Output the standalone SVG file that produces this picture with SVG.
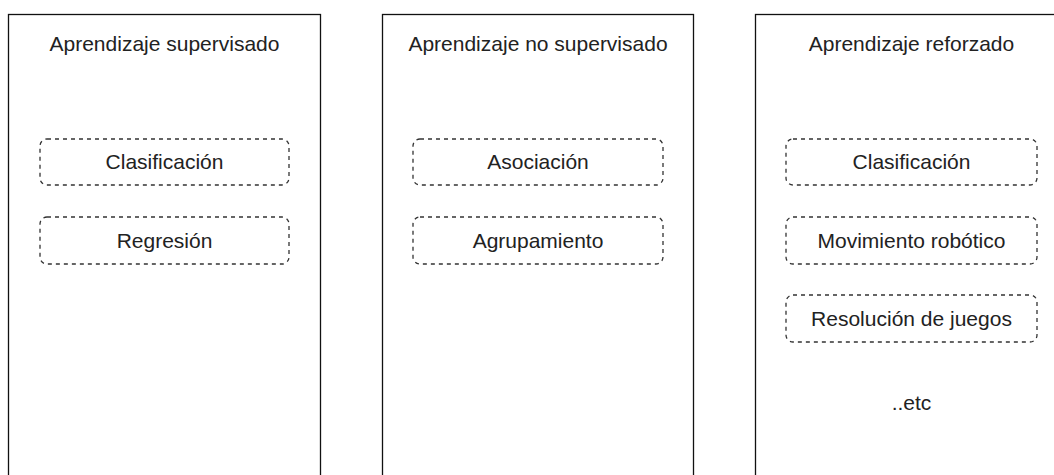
<svg xmlns="http://www.w3.org/2000/svg" width="1054" height="475" viewBox="0 0 1054 475">
<style>
.panel{fill:#fff;stroke:#111;stroke-width:1.3}
.item{fill:#fff;stroke:#333;stroke-width:1.3;stroke-dasharray:4 4}
text{font-family:"Liberation Sans",Arial,sans-serif;font-size:21px;fill:#222;text-anchor:middle}
</style>
<rect width="1054" height="475" fill="#fff"/>
<g id="panel-supervisado">
<rect class="panel" x="8.5" y="14.5" width="312" height="480"/>
<text x="164.5" y="51">Aprendizaje supervisado</text>
</g>
<g id="panel-no-supervisado">
<rect class="panel" x="382.5" y="14.5" width="311" height="480"/>
<text x="538" y="51">Aprendizaje no supervisado</text>
</g>
<g id="panel-reforzado">
<rect class="panel" x="755.5" y="14.5" width="312" height="480"/>
<text x="911.5" y="51">Aprendizaje reforzado</text>
</g>
<g id="sup-clasificacion">
<rect class="item" x="40" y="139" width="249" height="46" rx="7"/>
<text x="164.5" y="169">Clasificación</text>
</g>
<g id="sup-regresion">
<rect class="item" x="40" y="217" width="249" height="47" rx="7"/>
<text x="164.5" y="248">Regresión</text>
</g>
<g id="nosup-asociacion">
<rect class="item" x="413" y="139" width="250" height="46" rx="7"/>
<text x="538" y="169">Asociación</text>
</g>
<g id="nosup-agrupamiento">
<rect class="item" x="413" y="217" width="250" height="47" rx="7"/>
<text x="538" y="248">Agrupamiento</text>
</g>
<g id="ref-clasificacion">
<rect class="item" x="786" y="139" width="251" height="46" rx="7"/>
<text x="911.5" y="169">Clasificación</text>
</g>
<g id="ref-movimiento">
<rect class="item" x="786" y="217" width="251" height="47" rx="7"/>
<text x="911.5" y="248">Movimiento robótico</text>
</g>
<g id="ref-resolucion">
<rect class="item" x="786" y="295" width="251" height="47" rx="7"/>
<text x="911.5" y="326">Resolución de juegos</text>
</g>
<g id="ref-etc">
<text x="911.5" y="410">..etc</text>
</g>
<g id="connectors"/>
</svg>
